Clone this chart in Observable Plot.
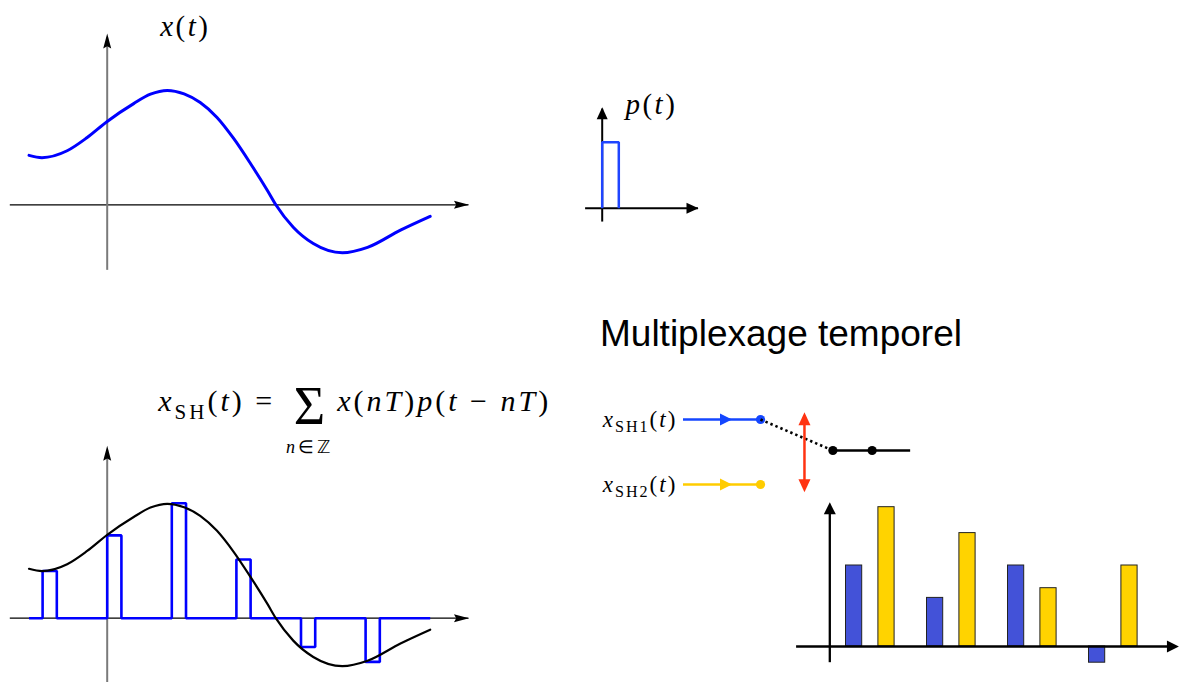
<!DOCTYPE html>
<html>
<head>
<meta charset="utf-8">
<script src="https://cdn.jsdelivr.net/npm/d3@7"></script>
<script src="https://cdn.jsdelivr.net/npm/@observablehq/plot@0.6"></script>
<style>
  html, body { margin: 0; padding: 0; background: #fff; }
  #wrap { position: relative; width: 1184px; height: 682px; overflow: hidden; background: #fff; }
  #title { position: absolute; left: 600px; top: 315px; font-family: "Liberation Sans", Arial, sans-serif; font-size: 37px; line-height: 1; color: #000; white-space: nowrap; }
</style>
</head>
<body>
<div id="wrap">
  <div id="title">Multiplexage temporel</div>
</div>
<script>
// ---------------- DATA ----------------
// x(t): points read off the continuous signal (t in sampling periods T, amplitude normalised to the peak)
const curveT = [-1.21, -1.01, -0.62, -0.31, 0, 0.41, 0.67, 0.93, 1.19, 1.44, 1.70, 1.96, 2.22, 2.48, 2.61, 2.88, 3.19, 3.64, 4.03, 4.54, 5.0];
const curveX = [0.43, 0.41, 0.47, 0.585, 0.725, 0.88, 0.962, 0.995, 0.965, 0.89, 0.76, 0.575, 0.357, 0.124, 0, -0.195, -0.337, -0.417, -0.37, -0.22, -0.10];
// samples x(nT)
const sampleN = [-1, 0, 1, 2, 3, 4];
const sampleX = [0.41, 0.72, 1.0, 0.51, -0.25, -0.38];
const pulseWidth = 0.22;            // width of p(t), in T
// time-multiplexed sample values (bar chart)
const slots = [0, 1, 2, 3];
const sh1Values = [2.5, 1.5, 2.5, -0.5];
const sh2Values = [4.3, 3.5, 1.8, 2.5];
const channels = ["SH1", "SH2"];
const channelLabels = ["x_{SH1}(t)", "x_{SH2}(t)"];
const channelRows = [1, 0];
// text labels
const labelX = "x(t)";
const labelP = "p(t)";
const formulaLeft = "x_{SH}(t) = ";
const formulaSum = "Σ";
const formulaIndex = "n∈ℤ";
const formulaRight = "x(nT)p(t − nT)";

// ---------------- STYLE ----------------
const BLUE = "#0000ff", PULSE_BLUE = "#1f45ff", SW_BLUE = "#1446ff", YELLOW = "#ffcc00",
      RED = "#ff3311", BAR_BLUE = "#4352d8", BAR_YELLOW = "#ffd300";
const MATH_FONT = "'Liberation Serif', 'Times New Roman', serif";

function head(L, W, notch) {
  return { draw(ctx, l) {
    ctx.moveTo(0, -l);
    ctx.lineTo(W, -l + L);
    ctx.lineTo(0, -l + L * (1 - notch));
    ctx.lineTo(-W, -l + L);
    ctx.closePath();
  }};
}

const wrap = document.getElementById("wrap");
function mount(opts) {
  const svg = Plot.plot({
    width: 1184, height: 682,
    style: "position:absolute;left:0;top:0;background:transparent;overflow:visible;",
    ...opts
  });
  wrap.appendChild(svg);
  return svg;
}

function mathify(svg, spacing) {
  const NS = "http://www.w3.org/2000/svg";
  svg.querySelectorAll("text").forEach(el => {
    const s = el.textContent;
    const size = parseFloat(getComputedStyle(el).fontSize);
    const parts = [];
    let i = 0;
    while (i < s.length) {
      if (s[i] === "_" && s[i + 1] === "{") {
        const j = s.indexOf("}", i);
        parts.push({text: s.slice(i + 2, j), italic: false, sub: true});
        i = j + 1;
      } else {
        const c = s[i];
        const italic = /[A-Za-z]/.test(c);
        const last = parts[parts.length - 1];
        if (last && !last.sub && last.italic === italic) last.text += c;
        else parts.push({text: c, italic, sub: false});
        i++;
      }
    }
    el.textContent = "";
    if (s.length > 1) el.setAttribute("letter-spacing", spacing);
    let shift = 0;
    for (const p of parts) {
      const ts = document.createElementNS(NS, "tspan");
      ts.textContent = p.text;
      ts.setAttribute("font-style", p.italic ? "italic" : "normal");
      const target = p.sub ? 0.25 * size : 0;
      if (target !== shift) { ts.setAttribute("dy", target - shift); shift = target; }
      if (p.sub) ts.setAttribute("font-size", 0.7 * size);
      el.appendChild(ts);
    }
  });
}

const curve = curveT.map((t, i) => ({t, v: curveX[i]}));
const shPath = [{t: curveT[0], v: 0}];
sampleN.forEach((n, i) => {
  shPath.push({t: n, v: 0}, {t: n, v: sampleX[i]}, {t: n + pulseWidth, v: sampleX[i]}, {t: n + pulseWidth, v: 0});
});
shPath.push({t: curveT[curveT.length - 1], v: 0});

const xTime = {domain: [0, 1], range: [106.7, 171.3], axis: null};
const axisT = [-1.5, 5.6];
const axisHead = head(15, 4, 0.15);

// ---------- Panel 1 : x(t) ----------
const s1 = mount({
  x: xTime,
  y: {domain: [0, 1], range: [204.3, 89.3], axis: null},
  marks: [
    Plot.ruleY([0], {x1: axisT[0], x2: axisT[1], stroke: "black", strokeWidth: 1.3}),
    Plot.ruleX([0], {y1: -0.57, y2: 1.45, stroke: "#7a7a7a", strokeWidth: 2}),
    Plot.vector([{x: axisT[1], y: 0, r: 90}, {x: 0, y: 1.49, r: 0}],
      {x: "x", y: "y", rotate: "r", length: 10, anchor: "end", shape: axisHead, fill: "black", stroke: "none"}),
    Plot.line(curve, {x: "t", y: "v", stroke: BLUE, strokeWidth: 3, curve: "monotone-x"}),
    Plot.text([labelX], {x: 0.82, y: 1.47, text: d => d, textAnchor: "start", lineAnchor: "bottom",
      fontSize: 29, fontFamily: MATH_FONT})
  ]
});
mathify(s1, 2.5);

// ---------- Panel 2 : x_SH(t) ----------
const s2 = mount({
  x: xTime,
  y: {domain: [0, 1], range: [617.7, 502.7], axis: null},
  marks: [
    Plot.ruleY([0], {x1: axisT[0], x2: axisT[1], stroke: "black", strokeWidth: 1.3}),
    Plot.ruleX([0], {y1: -0.6, y2: 1.46, stroke: "#7a7a7a", strokeWidth: 2}),
    Plot.vector([{x: axisT[1], y: 0, r: 90}, {x: 0, y: 1.50, r: 0}],
      {x: "x", y: "y", rotate: "r", length: 10, anchor: "end", shape: axisHead, fill: "black", stroke: "none"}),
    Plot.line(shPath, {x: "t", y: "v", stroke: BLUE, strokeWidth: 2.6, strokeLinejoin: "miter", strokeLinecap: "butt"}),
    Plot.line(curve, {x: "t", y: "v", stroke: "black", strokeWidth: 2.2, curve: "monotone-x"}),
    Plot.text([formulaLeft], {x: 0.79, y: 1.80, text: d => d, textAnchor: "start", lineAnchor: "bottom",
      fontSize: 30, fontFamily: MATH_FONT}),
    Plot.text([formulaRight], {x: 3.56, y: 1.80, text: d => d, textAnchor: "start", lineAnchor: "bottom",
      fontSize: 30, fontFamily: MATH_FONT}),
    Plot.text([formulaSum], {x: 3.13, y: 1.685, text: d => d, textAnchor: "middle", lineAnchor: "bottom",
      fontSize: 54, fontFamily: MATH_FONT}),
    Plot.text([formulaIndex], {x: 3.13, y: 1.44, text: d => d, textAnchor: "middle", lineAnchor: "bottom",
      fontSize: 18, fontFamily: MATH_FONT})
  ]
});
mathify(s2, 3);

// ---------- Panel 3 : p(t) ----------
const pulse = [{t: 0, v: 0}, {t: 0, v: 1}, {t: 1, v: 1}, {t: 1, v: 0}];
const s3 = mount({
  x: {domain: [0, 1], range: [601.7, 618.3], axis: null},
  y: {domain: [0, 1], range: [207.7, 141.7], axis: null},
  marks: [
    Plot.ruleY([0], {x1: -1.0, x2: 5.8, stroke: "black", strokeWidth: 2}),
    Plot.ruleX([0], {y1: -0.21, y2: 1.5, stroke: "black", strokeWidth: 2}),
    Plot.vector([{x: 5.8, y: 0, r: 90}, {x: 0, y: 1.53, r: 0}],
      {x: "x", y: "y", rotate: "r", length: 10, anchor: "end", shape: head(12, 5.5, 0), fill: "black", stroke: "none"}),
    Plot.line(pulse, {x: "t", y: "v", stroke: PULSE_BLUE, strokeWidth: 2.5, strokeLinejoin: "miter", strokeLinecap: "butt"}),
    Plot.text([labelP], {x: 1.40, y: 1.43, text: d => d, textAnchor: "start", lineAnchor: "bottom",
      fontSize: 29, fontFamily: MATH_FONT})
  ]
});
mathify(s3, 2.5);

// ---------- Panel 4 : switch ----------
const inputs = channels.map((ch, i) => ({ch, row: channelRows[i], label: channelLabels[i]}));
const outY = 0.523, outDots = [1.94, 2.45], outEnd = 2.95, switchX = 1.571;
const s4 = mount({
  x: {domain: [0, 1], range: [683, 760], axis: null},
  y: {domain: [0, 1], range: [484, 419], axis: null},
  color: {domain: channels, range: [SW_BLUE, YELLOW]},
  marks: [
    Plot.ruleY(inputs, {y: "row", x1: 0, x2: 1, stroke: "ch", strokeWidth: 2.5}),
    Plot.vector(inputs, {x: 0.63, y: "row", rotate: 90, length: 10, anchor: "end", shape: head(12, 6, 0), fill: "ch", stroke: "none"}),
    Plot.dot(inputs, {x: 1, y: "row", r: 4.6, fill: "ch", stroke: "none"}),
    Plot.line([{x: 1, y: 1}, {x: outDots[0], y: outY}], {x: "x", y: "y", stroke: "black", strokeWidth: 2.6,
      strokeDasharray: "2.4 3", strokeLinecap: "butt"}),
    Plot.ruleY([outY], {x1: outDots[0], x2: outEnd, stroke: "black", strokeWidth: 2.4}),
    Plot.dot(outDots, {x: d => d, y: outY, r: 4.6, fill: "black", stroke: "none"}),
    Plot.ruleX([switchX], {y1: -0.05, y2: 1.05, stroke: RED, strokeWidth: 2.5}),
    Plot.vector([{y: 1.112, r: 0}, {y: -0.118, r: 180}], {x: switchX, y: "y", rotate: "r", length: 10, anchor: "end",
      shape: head(13, 6, 0), fill: RED, stroke: "none"}),
    Plot.text(inputs, {x: -0.08, y: "row", dy: 7, text: "label", textAnchor: "end", lineAnchor: "bottom",
      fontSize: 23, fontFamily: MATH_FONT})
  ]
});
mathify(s4, 2);

// ---------- Panel 5 : multiplexed bars ----------
const offset = {SH1: 0.2, SH2: 0.6}, barW = 0.2;
const bars = slots.flatMap((s, i) => [
  {slot: s, ch: "SH1", v: sh1Values[i]},
  {slot: s, ch: "SH2", v: sh2Values[i]}
]);
mount({
  x: {domain: [0, 1], range: [829.3, 910.3], axis: null},
  y: {domain: [0, 1], range: [646, 613.6], axis: null},
  color: {domain: channels, range: [BAR_BLUE, BAR_YELLOW]},
  marks: [
    Plot.rect(bars, {x1: d => d.slot + offset[d.ch], x2: d => d.slot + offset[d.ch] + barW, y1: 0, y2: "v",
      fill: "ch", stroke: "#222", strokeWidth: 1}),
    Plot.ruleY([0], {x1: -0.41, x2: 4.2, stroke: "black", strokeWidth: 2.3}),
    Plot.ruleX([0], {y1: -0.5, y2: 4.3, stroke: "black", strokeWidth: 2.3}),
    Plot.vector([{x: 4.31, y: 0, r: 90}, {x: 0, y: 4.45, r: 0}],
      {x: "x", y: "y", rotate: "r", length: 10, anchor: "end", shape: head(12, 6, 0), fill: "black", stroke: "none"})
  ]
});
</script>
</body>
</html>
